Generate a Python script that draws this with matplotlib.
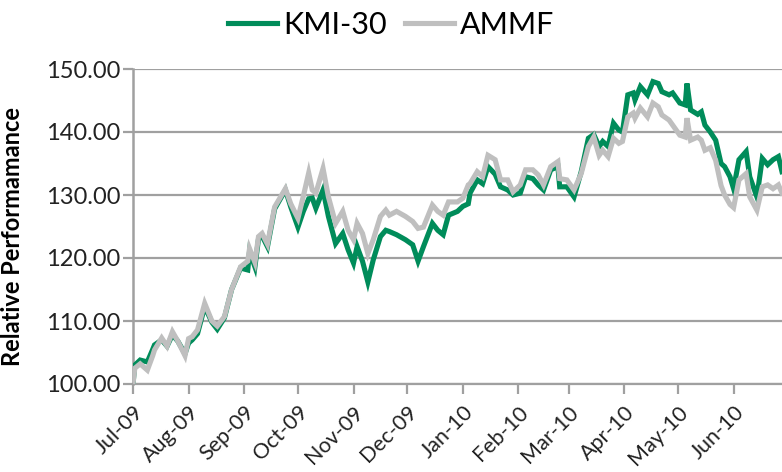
import matplotlib
matplotlib.use("Agg")
import matplotlib.pyplot as plt
import matplotlib.dates as mdates
import pandas as pd

plt.rcParams['font.family'] = ['Lato', 'DejaVu Sans']

dates = ["2009-07-01", "2009-07-02", "2009-07-05", "2009-07-09", "2009-07-12", "2009-07-13",
         "2009-07-17", "2009-07-20", "2009-07-23", "2009-07-26", "2009-07-30", "2009-08-01",
         "2009-08-03", "2009-08-06", "2009-08-10", "2009-08-14", "2009-08-17", "2009-08-21",
         "2009-08-25", "2009-08-30", "2009-09-03", "2009-09-04", "2009-09-07", "2009-09-09",
         "2009-09-11", "2009-09-14", "2009-09-18", "2009-09-24", "2009-09-27", "2009-10-01",
         "2009-10-04", "2009-10-07", "2009-10-09", "2009-10-11", "2009-10-15", "2009-10-18",
         "2009-10-22", "2009-10-26", "2009-10-29", "2009-11-01", "2009-11-03", "2009-11-06",
         "2009-11-09", "2009-11-12", "2009-11-16", "2009-11-19", "2009-11-21", "2009-11-25",
         "2009-11-30", "2009-12-04", "2009-12-07", "2009-12-10", "2009-12-15", "2009-12-18",
         "2009-12-21", "2009-12-24", "2009-12-29", "2010-01-01", "2010-01-04", "2010-01-05",
         "2010-01-09", "2010-01-12", "2010-01-15", "2010-01-19", "2010-01-22", "2010-01-26",
         "2010-01-29", "2010-02-02", "2010-02-05", "2010-02-09", "2010-02-12", "2010-02-15",
         "2010-02-19", "2010-02-23", "2010-02-24", "2010-02-28", "2010-03-04", "2010-03-08",
         "2010-03-12", "2010-03-15", "2010-03-18", "2010-03-20", "2010-03-23", "2010-03-26",
         "2010-03-29", "2010-03-31", "2010-04-03", "2010-04-06", "2010-04-07", "2010-04-10",
         "2010-04-14", "2010-04-17", "2010-04-20", "2010-04-22", "2010-04-26", "2010-04-28",
         "2010-05-02", "2010-05-05", "2010-05-06", "2010-05-08", "2010-05-12", "2010-05-14",
         "2010-05-16", "2010-05-19", "2010-05-22", "2010-05-25", "2010-05-27", "2010-05-30",
         "2010-06-01", "2010-06-04", "2010-06-08", "2010-06-10", "2010-06-14", "2010-06-17",
         "2010-06-20", "2010-06-23", "2010-06-26", "2010-06-28"]

kmi30 = [100.0, 103.0, 103.8, 103.5, 105.5, 106.2,
         107.0, 106.0, 107.8, 106.8, 104.8, 106.5,
         107.0, 108.0, 112.3, 109.8, 108.7, 110.5,
         115.0, 118.4, 118.1, 121.0, 118.6, 123.0,
         123.5, 121.8, 127.8, 130.8, 128.1, 124.9,
         127.4, 129.4, 129.5, 127.9, 130.8, 126.6,
         122.3, 123.9, 121.3, 119.2, 121.8, 119.5,
         116.2, 119.7, 123.4, 124.4, 124.2, 123.7,
         122.9, 122.1, 119.5, 121.8, 125.5, 124.4,
         123.7, 126.8, 127.4, 128.2, 128.6, 130.3,
         132.4, 131.8, 134.5, 133.3, 131.3, 130.8,
         130.0, 130.3, 132.9, 132.6, 131.6, 130.8,
         134.0, 134.5, 131.3, 131.3, 129.7, 133.7,
         139.0, 139.6, 137.7, 138.5, 137.7, 141.4,
         140.3, 140.0, 145.9, 146.2, 145.1, 147.2,
         145.9, 148.0, 147.7, 146.4, 145.9, 146.2,
         144.6, 144.3, 147.7, 143.5, 142.8, 143.2,
         141.1, 140.0, 138.7, 135.0, 134.5, 132.9,
         131.0, 135.6, 136.9, 132.9, 129.7, 135.8,
         134.8, 135.6, 136.1, 133.7]

ammf = [100.0, 102.5, 103.2, 102.2, 104.5, 105.4,
        107.3, 106.0, 108.3, 106.8, 104.5, 107.2,
        107.5, 108.6, 112.8, 110.0, 109.2, 110.7,
        115.0, 118.6, 119.5, 121.5, 119.3, 123.4,
        123.9, 122.2, 128.1, 131.0, 128.6, 126.3,
        129.8, 133.5, 130.8, 130.3, 134.2, 129.7,
        125.5, 127.4, 124.4, 122.9, 125.5, 123.9,
        120.7, 122.9, 126.6, 127.6, 126.8, 127.4,
        126.6, 125.8, 124.7, 124.9, 128.4, 127.4,
        126.8, 128.9, 128.9, 129.5, 131.6, 131.8,
        133.7, 132.9, 136.3, 135.6, 132.4, 132.4,
        130.5, 131.6, 134.0, 134.0, 133.2, 131.6,
        134.5, 135.3, 132.6, 132.4, 130.8, 133.4,
        137.7, 139.2, 136.3, 137.1, 136.1, 139.0,
        138.2, 138.5, 142.4, 143.0, 142.2, 143.8,
        142.4, 144.6, 144.0, 142.7, 141.9, 141.1,
        139.5, 139.2, 142.2, 138.7, 139.2, 138.7,
        137.1, 137.5, 135.5, 131.5, 130.0, 128.5,
        128.0, 132.4, 133.4, 129.7, 127.6, 131.3,
        131.6, 131.0, 131.6, 130.3]

month_ticks = ["2009-07-01", "2009-08-01", "2009-09-01", "2009-10-01", "2009-11-01", "2009-12-01",
               "2010-01-01", "2010-02-01", "2010-03-01", "2010-04-01", "2010-05-01", "2010-06-01"]
month_labels = ["Jul-09", "Aug-09", "Sep-09", "Oct-09", "Nov-09", "Dec-09",
                "Jan-10", "Feb-10", "Mar-10", "Apr-10", "May-10", "Jun-10"]
y_ticks = [100, 110, 120, 130, 140, 150]

x = pd.to_datetime(dates)
green = "#008C5A"
gray = "#BFBFBF"
axis_gray = "#A0A0A0"

fig = plt.figure(figsize=(7.82, 4.72), dpi=100)
ax = fig.add_axes([133/782, 1-384/472, 1-133/782, (384-69)/472])

ax.plot(x, kmi30, color=green, lw=3.7, solid_joinstyle='miter', label="KMI-30", zorder=3)
ax.plot(x, ammf, color=gray, lw=3.7, solid_joinstyle='miter', label="AMMF", zorder=4)

ax.set_ylim(100, 150)
ax.set_xlim(pd.Timestamp("2009-07-01"), pd.Timestamp("2010-06-28"))
ax.set_yticks(y_ticks)
ax.set_yticklabels([f"{v:.2f}" for v in y_ticks], fontsize=17, color="#222222")
ax.set_xticks(pd.to_datetime(month_ticks))
ax.set_xticklabels(month_labels, rotation=45, ha='right', rotation_mode='anchor',
                   fontsize=15.5, color="#222222")

ax.yaxis.grid(True, color=axis_gray, lw=1.6)
ax.set_axisbelow(True)
for s in ['top', 'right']:
    ax.spines[s].set_visible(False)
ax.spines['left'].set_color(axis_gray)
ax.spines['left'].set_linewidth(1.8)
ax.spines['bottom'].set_color(axis_gray)
ax.spines['bottom'].set_linewidth(1.6)
ax.tick_params(axis='y', length=7, width=1.6, color=axis_gray, pad=2)
ax.tick_params(axis='x', length=7, width=1.6, color=axis_gray, pad=6)

ax.set_ylabel("Relative Performamance", fontsize=17, fontweight='bold')
ax.yaxis.set_label_coords(-0.168, 0.467)

fig.legend(loc='center', bbox_to_anchor=(0.5, 0.947), ncol=2, frameon=False,
           fontsize=22, handlelength=1.6, handletextpad=0.2, columnspacing=0.6)

fig.savefig("out.png", dpi=100)
